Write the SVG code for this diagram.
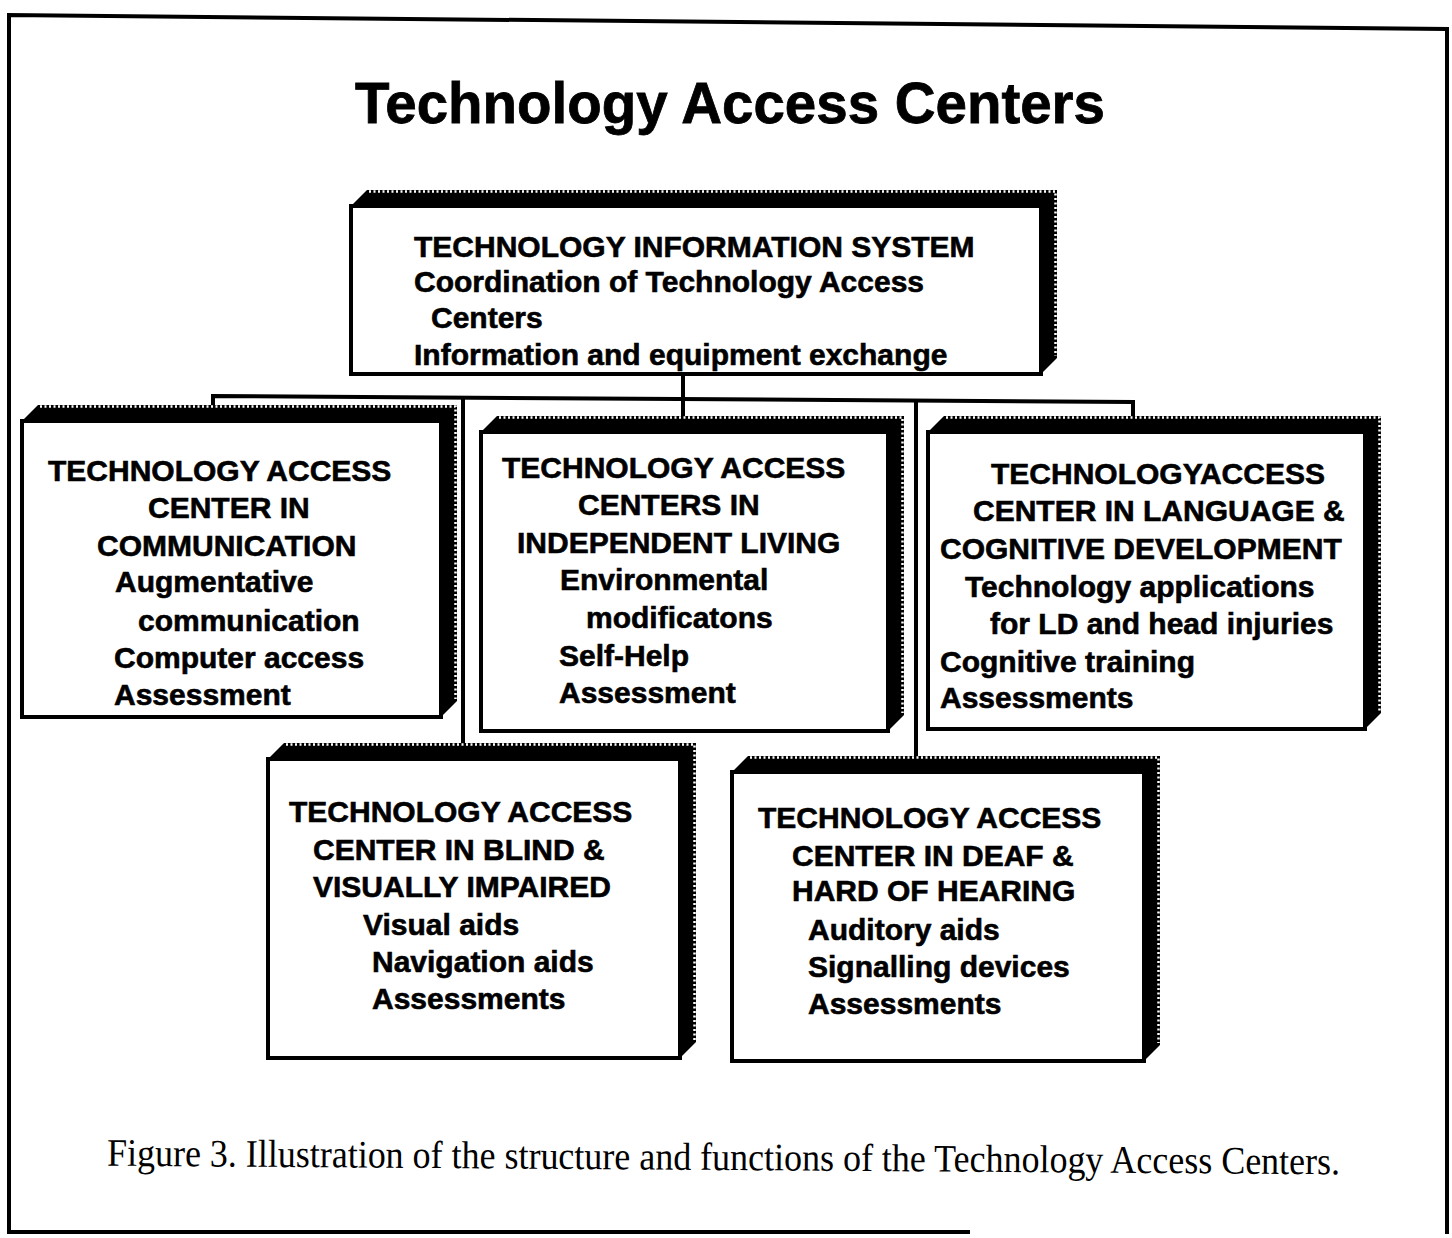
<svg xmlns="http://www.w3.org/2000/svg" width="1452" height="1238" viewBox="0 0 1452 1238">
<style>
.frame{fill:none;stroke:#000;stroke-width:4}
.shadow{fill:#000}
.serr{fill:none;stroke:#fff;stroke-width:2.5;stroke-dasharray:2 2.5}
.box{fill:#fff;stroke:#000;stroke-width:4}
.conn{fill:none;stroke:#000;stroke-width:4}
.t{font-family:"Liberation Sans",Arial,Helvetica,sans-serif;font-weight:bold;font-size:30px;fill:#000;stroke:#000;stroke-width:0.6}
.title{font-family:"Liberation Sans",Arial,Helvetica,sans-serif;font-weight:bold;font-size:58px;fill:#000;stroke:#000;stroke-width:0.8}
.cap{font-family:"Liberation Serif","Times New Roman",serif;font-size:39px;fill:#000}
</style>
<rect width="1452" height="1238" fill="#fff"/>
<path class="frame" d="M970,1232 L9,1232 L9,15 L1447,29 L1447,1234"/>
<text class="title" x="355" y="123" textLength="750" lengthAdjust="spacingAndGlyphs">Technology Access Centers</text>

<g id="connectors">
<path class="conn" d="M683,374 L683,416"/>
<path class="conn" d="M213,406 L213,396 L1133,402 L1133,416"/>
<path class="conn" d="M463,398 L463,743"/>
<path class="conn" d="M916,401 L916,756"/>
</g>

<g id="tis">
<polygon class="shadow" points="351,206 367,190 1057,190 1057,358 1041,374 1041,206"/>
<path class="serr" d="M369,191.5 L1055.5,191.5 L1055.5,356"/>
<rect class="box" x="351" y="206" width="690" height="168"/>
<text class="t" x="414" y="257">TECHNOLOGY INFORMATION SYSTEM</text>
<text class="t" x="414" y="292">Coordination of Technology Access</text>
<text class="t" x="431" y="328">Centers</text>
<text class="t" x="414" y="365">Information and equipment exchange</text>
</g>

<g id="communication">
<polygon class="shadow" points="22,421 38,405 457,405 457,701 441,717 441,421"/>
<path class="serr" d="M40,406.5 L455.5,406.5 L455.5,699"/>
<rect class="box" x="22" y="421" width="419" height="296"/>
<text class="t" x="48" y="481">TECHNOLOGY ACCESS</text>
<text class="t" x="148" y="518">CENTER IN</text>
<text class="t" x="97" y="556">COMMUNICATION</text>
<text class="t" x="115" y="592">Augmentative</text>
<text class="t" x="138" y="631">communication</text>
<text class="t" x="114" y="668">Computer access</text>
<text class="t" x="114" y="705">Assessment</text>
</g>

<g id="independent">
<polygon class="shadow" points="481,432 497,416 904,416 904,715 888,731 888,432"/>
<path class="serr" d="M499,417.5 L902.5,417.5 L902.5,713"/>
<rect class="box" x="481" y="432" width="407" height="299"/>
<text class="t" x="502" y="478">TECHNOLOGY ACCESS</text>
<text class="t" x="578" y="515">CENTERS IN</text>
<text class="t" x="517" y="553">INDEPENDENT LIVING</text>
<text class="t" x="560" y="590">Environmental</text>
<text class="t" x="586" y="628">modificatons</text>
<text class="t" x="559" y="666">Self-Help</text>
<text class="t" x="559" y="703">Assessment</text>
</g>

<g id="language">
<polygon class="shadow" points="928,432 944,416 1381,416 1381,713 1365,729 1365,432"/>
<path class="serr" d="M946,417.5 L1379.5,417.5 L1379.5,711"/>
<rect class="box" x="928" y="432" width="437" height="297"/>
<text class="t" x="991" y="484">TECHNOLOGYACCESS</text>
<text class="t" x="973" y="521">CENTER IN LANGUAGE &amp;</text>
<text class="t" x="940" y="559">COGNITIVE DEVELOPMENT</text>
<text class="t" x="965" y="597">Technology applications</text>
<text class="t" x="990" y="634">for LD and head injuries</text>
<text class="t" x="940" y="672">Cognitive training</text>
<text class="t" x="940" y="708">Assessments</text>
</g>

<g id="blind">
<polygon class="shadow" points="268,759 284,743 696,743 696,1042 680,1058 680,759"/>
<path class="serr" d="M286,744.5 L694.5,744.5 L694.5,1040"/>
<rect class="box" x="268" y="759" width="412" height="299"/>
<text class="t" x="289" y="822">TECHNOLOGY ACCESS</text>
<text class="t" x="313" y="860">CENTER IN BLIND &amp;</text>
<text class="t" x="313" y="897">VISUALLY IMPAIRED</text>
<text class="t" x="363" y="935">Visual aids</text>
<text class="t" x="372" y="972">Navigation aids</text>
<text class="t" x="372" y="1009">Assessments</text>
</g>

<g id="deaf">
<polygon class="shadow" points="732,772 748,756 1160,756 1160,1045 1144,1061 1144,772"/>
<path class="serr" d="M750,757.5 L1158.5,757.5 L1158.5,1043"/>
<rect class="box" x="732" y="772" width="412" height="289"/>
<text class="t" x="758" y="828">TECHNOLOGY ACCESS</text>
<text class="t" x="792" y="866">CENTER IN DEAF &amp;</text>
<text class="t" x="792" y="901">HARD OF HEARING</text>
<text class="t" x="808" y="940">Auditory aids</text>
<text class="t" x="808" y="977">Signalling devices</text>
<text class="t" x="808" y="1014">Assessments</text>
</g>

<text class="cap" x="107" y="1170" textLength="1233" lengthAdjust="spacingAndGlyphs" transform="rotate(0.4 723 1170)">Figure 3. Illustration of the structure and functions of the Technology Access Centers.</text>
</svg>
